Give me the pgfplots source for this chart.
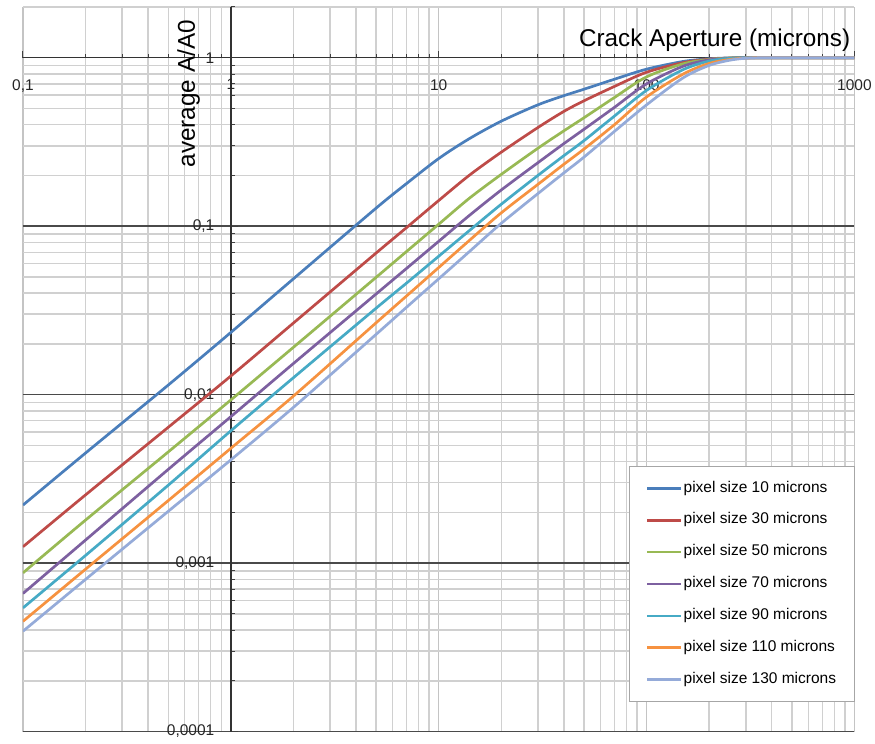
\documentclass[border=0pt]{standalone}
\usepackage{fontspec}
\setmainfont{Liberation Sans}
\usepackage{pgfplots}
\pgfplotsset{compat=1.18}
\usepackage{pgfplotstable}

\definecolor{cBlue}{HTML}{4A7EBB}
\definecolor{cRed}{HTML}{BE4B48}
\definecolor{cGreen}{HTML}{98B954}
\definecolor{cPurple}{HTML}{7D60A0}
\definecolor{cAqua}{HTML}{46AAC5}
\definecolor{cOrange}{HTML}{F69240}
\definecolor{cLight}{HTML}{95ABD9}
\definecolor{gMinor}{HTML}{D0D0D0}
\definecolor{gMid}{HTML}{C4C4C4}
\definecolor{gMajor}{HTML}{4A4A4A}

\pgfplotstableread{
x     b       r       g        p       a        o        l
0.1   0.00221 0.00125 0.000875 0.00066 0.000542 0.000451 0.000394
0.2   0.0045  0.00254 0.0018   0.00137 0.00111  0.00092  0.0008
0.5   0.0114  0.0064  0.00457  0.0036  0.0029   0.00235  0.00203
1     0.0234  0.0129  0.0093   0.0074  0.0061   0.0048   0.0041
2     0.0487  0.0266  0.0191   0.0153  0.0126   0.0098   0.0084
5     0.128   0.0693  0.0497   0.0396  0.0326   0.0267   0.0228
7     0.179   0.098   0.0707   0.0561  0.0459   0.0385   0.033
10    0.252   0.142   0.1027   0.0813  0.0663   0.0568   0.0487
14    0.33    0.2     0.146    0.1154  0.0938   0.082    0.0704
20    0.42    0.275   0.203    0.164   0.135    0.12     0.104
30    0.525   0.385   0.29     0.238   0.2      0.177    0.156
40    0.595   0.48    0.368    0.309   0.262    0.233    0.207
50    0.65    0.555   0.44     0.376   0.322    0.287    0.257
70    0.745   0.675   0.58     0.507   0.45     0.4      0.365
100   0.855   0.82    0.77     0.7     0.64     0.585    0.525
150   0.95    0.935   0.92     0.89    0.85     0.8      0.76
200   0.985   0.98    0.975    0.97    0.955    0.925    0.9
250   0.997   0.995   0.995    0.99    0.99     0.975    0.965
300   1       1       1        1       0.999    0.995    0.992
400   1       1       1        1       1        1        1
1000  1       1       1        1       1        1        1
}\datatable

\begin{document}
\begin{tikzpicture}
\begin{axis}[
  name=ax,
  scale only axis,
  width=832bp, height=725bp,
  xmode=log, ymode=log,
  xmin=0.1, xmax=1000, ymin=0.0001, ymax=2,
  axis lines=middle,
  axis line style={-, draw=black!80, line width=1.4bp},
  hide obscured x ticks=false,
  hide obscured y ticks=false,
  xtick={0.1,1,10,100,1000},
  xticklabels={{0,1},1,10,100,1000},
  minor xtick={0.2,0.3,0.4,0.5,0.6,0.7,0.8,0.9,2,3,4,5,6,7,8,9,20,30,40,50,60,70,80,90,200,300,400,500,600,700,800,900},
  ytick={0.0001,0.001,0.01,0.1,1},
  yticklabels={{0,0001},{0,001},{0,01},{0,1},1},
  minor ytick={0.0002,0.0003,0.0004,0.0005,0.0006,0.0007,0.0008,0.0009,0.002,0.003,0.004,0.005,0.006,0.007,0.008,0.009,0.02,0.03,0.04,0.05,0.06,0.07,0.08,0.09,0.2,0.3,0.4,0.5,0.6,0.7,0.8,0.9,2},
  xmajorgrids, ymajorgrids, xminorgrids, yminorgrids,
  major x grid style={draw=gMid, line width=1.5bp},
  minor x grid style={draw=gMinor, line width=1.5bp},
  major y grid style={draw=gMajor, line width=1.5bp},
  minor y grid style={draw=gMinor, line width=1.5bp},
  tick align=inside,
  major tick length=7bp, minor tick length=4bp,
  tick style={draw=black!75, line width=1bp},
  ticklabel style={font=\fontsize{15.5bp}{18bp}\selectfont, text=black!85},
  xticklabel style={yshift=-18bp},
  yticklabel style={xshift=-13bp},
  xlabel={Crack Aperture (microns)},
  ylabel={average A/A0},
  xlabel style={at={(axis description cs:0.9952,0.9283)}, anchor=south east, inner sep=0pt, yshift=7bp, font=\fontsize{24.3bp}{28bp}\selectfont},
  ylabel style={at={(axis description cs:0.2067,0.982)}, anchor=base east, rotate=90, inner sep=0pt, font=\fontsize{24.3bp}{28bp}\selectfont},
  legend style={
    at={(axis description cs:1,0.3669)}, anchor=north east,
    draw=black!35, fill=white, line width=0.8bp,
    inner xsep=17bp, inner ysep=15bp,
    row sep=17.4bp,
    font=\fontsize{15.5bp}{18bp}\selectfont,
    nodes={inner xsep=1bp, inner ysep=0bp, text height=11bp, text depth=3.5bp},
  },
  legend cell align=left,
  legend image code/.code={\draw[#1, line width=2.7bp] (0bp,0bp) -- (34bp,0bp);},
  every axis plot/.append style={line width=2.7bp, smooth, tension=0.5},
  clip=true,
]
\addplot[cBlue]   table[x=x,y=b] {\datatable};
\addlegendentry{pixel size 10 microns}
\addplot[cRed]    table[x=x,y=r] {\datatable};
\addlegendentry{pixel size 30 microns}
\addplot[cGreen]  table[x=x,y=g] {\datatable};
\addlegendentry{pixel size 50 microns}
\addplot[cPurple] table[x=x,y=p] {\datatable};
\addlegendentry{pixel size 70 microns}
\addplot[cAqua]   table[x=x,y=a] {\datatable};
\addlegendentry{pixel size 90 microns}
\addplot[cOrange] table[x=x,y=o] {\datatable};
\addlegendentry{pixel size 110 microns}
\addplot[cLight]  table[x=x,y=l] {\datatable};
\addlegendentry{pixel size 130 microns}
\end{axis}
\path (ax.south west) -- ++(-23bp,-12bp) (ax.north east) -- ++(20bp,7bp);
\end{tikzpicture}
\end{document}
